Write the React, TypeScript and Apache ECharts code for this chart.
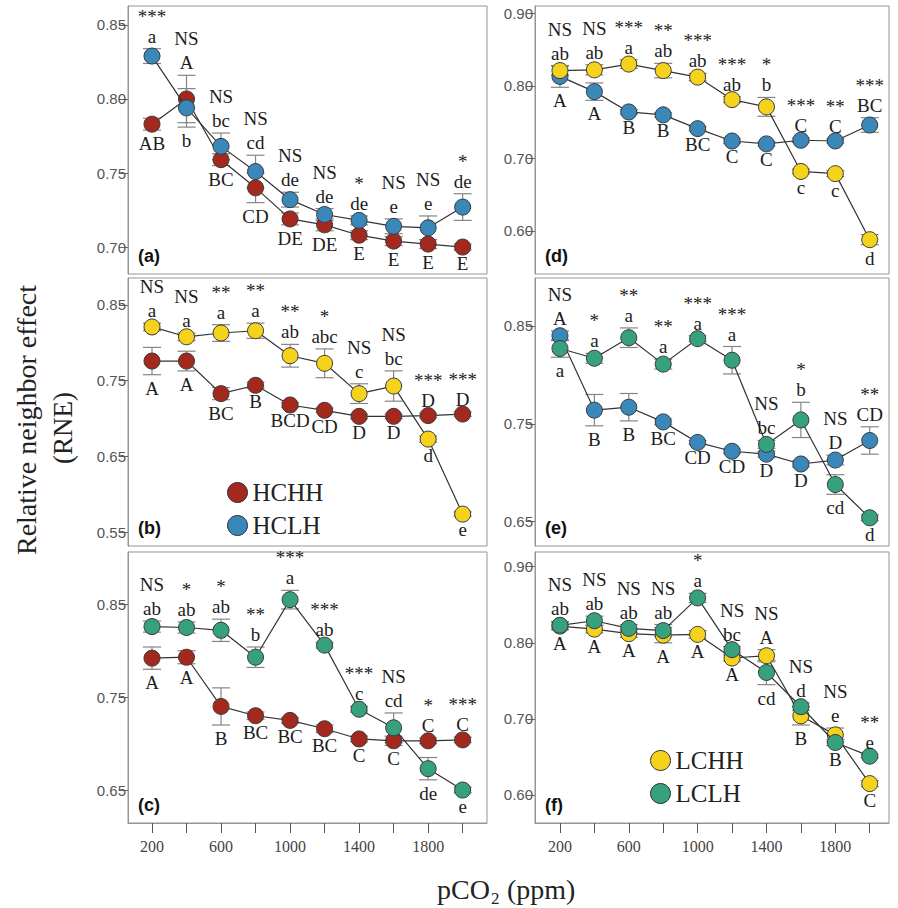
import React, { useEffect, useRef } from 'react';
import * as echarts from 'echarts';

// ---------- data ----------
const pco2 = [200, 400, 600, 800, 1000, 1200, 1400, 1600, 1800, 2000];
const xTickValues = [200, 400, 600, 800, 1000, 1200, 1400, 1600, 1800, 2000];
const xLabelValues = [200, 600, 1000, 1400, 1800];

// (a) HCHH vs HCLH
const aHCHH = [0.783, 0.800, 0.759, 0.740, 0.719, 0.715, 0.708, 0.704, 0.702, 0.700];
const aHCHHErr = [0.004, 0.016, 0.004, 0.010, 0.004, 0.004, 0.003, 0.003, 0.003, 0.002];
const aHCLH = [0.829, 0.794, 0.768, 0.751, 0.732, 0.722, 0.718, 0.714, 0.713, 0.727];
const aHCLHErr = [0.005, 0.013, 0.009, 0.011, 0.005, 0.004, 0.003, 0.005, 0.008, 0.009];
const aSig = ['***', 'NS', 'NS', 'NS', 'NS', 'NS', '*', 'NS', 'NS', '*'];
const aHCHHLetters = ['AB', 'A', 'BC', 'CD', 'DE', 'DE', 'E', 'E', 'E', 'E'];
const aHCLHLetters = ['a', 'b', 'bc', 'cd', 'de', 'de', 'de', 'e', 'e', 'de'];
const aTicks = [0.70, 0.75, 0.80, 0.85];

// (b) HCHH vs LCHH
const bHCHH = [0.776, 0.776, 0.733, 0.744, 0.718, 0.711, 0.703, 0.703, 0.704, 0.706];
const bHCHHErr = [0.018, 0.013, 0.008, 0.004, 0.003, 0.003, 0.003, 0.003, 0.003, 0.003];
const bLCHH = [0.821, 0.808, 0.813, 0.816, 0.783, 0.773, 0.733, 0.743, 0.673, 0.574];
const bLCHHErr = [0.005, 0.005, 0.011, 0.010, 0.015, 0.019, 0.013, 0.020, 0.004, 0.003];
const bSig = ['NS', 'NS', '**', '**', '**', '*', 'NS', 'NS', '***', '***'];
const bHCHHLetters = ['A', 'A', 'BC', 'B', 'BCD', 'CD', 'D', 'D', 'D', 'D'];
const bLCHHLetters = ['a', 'a', 'a', 'a', 'ab', 'abc', 'c', 'bc', 'd', 'e'];
const bTicks = [0.55, 0.65, 0.75, 0.85];

// (c) HCHH vs LCLH
const cHCHH = [0.792, 0.793, 0.740, 0.730, 0.725, 0.716, 0.705, 0.703, 0.703, 0.704];
const cHCHHErr = [0.012, 0.007, 0.020, 0.004, 0.003, 0.004, 0.003, 0.005, 0.003, 0.003];
const cLCLH = [0.826, 0.825, 0.822, 0.793, 0.855, 0.806, 0.737, 0.717, 0.673, 0.650];
const cLCLHErr = [0.006, 0.006, 0.012, 0.011, 0.010, 0.003, 0.003, 0.016, 0.012, 0.003];
const cSig = ['NS', '*', '*', '**', '***', '***', '***', 'NS', '*', '***'];
const cHCHHLetters = ['A', 'A', 'B', 'BC', 'BC', 'BC', 'C', 'C', 'C', 'C'];
const cLCLHLetters = ['ab', 'ab', 'ab', 'b', 'a', 'ab', 'c', 'cd', 'de', 'e'];
const cTicks = [0.65, 0.75, 0.85];

// (d) HCLH vs LCHH
const dHCLH = [0.813, 0.792, 0.764, 0.760, 0.741, 0.724, 0.720, 0.725, 0.724, 0.746];
const dHCLHErr = [0.015, 0.012, 0.003, 0.003, 0.003, 0.003, 0.003, 0.003, 0.003, 0.010];
const dLCHH = [0.821, 0.822, 0.830, 0.821, 0.812, 0.781, 0.771, 0.682, 0.679, 0.588];
const dLCHHErr = [0.006, 0.007, 0.006, 0.010, 0.005, 0.004, 0.013, 0.003, 0.004, 0.007];
const dSig = ['NS', 'NS', '***', '**', '***', '***', '*', '***', '**', '***'];
const dHCLHLetters = ['A', 'A', 'B', 'B', 'BC', 'C', 'C', 'C', 'C', 'BC'];
const dLCHHLetters = ['ab', 'ab', 'a', 'ab', 'ab', 'ab', 'b', 'c', 'c', 'd'];
const dTicks = [0.60, 0.70, 0.80, 0.90];

// (e) HCLH vs LCLH
const eHCLH = [0.840, 0.764, 0.767, 0.752, 0.731, 0.722, 0.719, 0.709, 0.713, 0.733];
const eHCLHErr = [0.005, 0.016, 0.014, 0.003, 0.002, 0.002, 0.003, 0.003, 0.005, 0.014];
const eLCLH = [0.827, 0.817, 0.838, 0.811, 0.837, 0.815, 0.729, 0.754, 0.688, 0.654];
const eLCLHErr = [0.009, 0.005, 0.010, 0.005, 0.003, 0.014, 0.004, 0.018, 0.010, 0.003];
const eSig = ['NS', '*', '**', '**', '***', '***', 'NS', '*', 'NS', '**'];
const eHCLHLetters = ['A', 'B', 'B', 'BC', 'CD', 'CD', 'D', 'D', 'D', 'CD'];
const eLCLHLetters = ['a', 'a', 'a', 'a', 'a', 'a', 'bc', 'b', 'cd', 'd'];
const eTicks = [0.65, 0.75, 0.85];

// (f) LCHH vs LCLH
const fLCHH = [0.822, 0.818, 0.812, 0.810, 0.811, 0.780, 0.783, 0.704, 0.679, 0.615];
const fLCHHErr = [0.005, 0.005, 0.005, 0.010, 0.005, 0.004, 0.008, 0.012, 0.009, 0.004];
const fLCLH = [0.823, 0.829, 0.819, 0.816, 0.859, 0.791, 0.761, 0.716, 0.669, 0.651];
const fLCLHErr = [0.005, 0.006, 0.005, 0.008, 0.006, 0.004, 0.016, 0.005, 0.004, 0.002];
const fSig = ['NS', 'NS', 'NS', 'NS', '*', 'NS', 'NS', 'NS', 'NS', '**'];
const fLCHHLetters = ['A', 'A', 'A', 'A', 'A', 'A', 'A', 'B', 'B', 'C'];
const fLCLHLetters = ['ab', 'ab', 'ab', 'ab', 'a', 'bc', 'cd', 'd', 'e', 'e'];
const fTicks = [0.60, 0.70, 0.80, 0.90];
// letter of LCLH (series index 1) written above at 1800 ppm
const fUpperOverride: Record<number, number> = { 8: 1 };

// ---------- styles ----------
const COLORS: Record<string, string> = {
  HCHH: '#a3291e',
  HCLH: '#3a87ba',
  LCHH: '#f5d21c',
  LCLH: '#36a07f',
};
const SERIF = '"Liberation Serif", "Times New Roman", serif';
const SANS = '"Liberation Sans", Arial, sans-serif';

type Ser = { name: string; values: number[]; err: number[]; letters: string[] };
type Panel = {
  tag: string;
  grid: { left: number; top: number; width: number; height: number };
  xMin: number; xMax: number; yMin: number; yMax: number;
  yTicks: number[];
  s: [Ser, Ser];
  sig: string[];
  upperOverride?: Record<number, number>;
  showX: boolean;
};

const L = { left: 128, width: 359, xMin: 61, xMax: 2141 };
const R = { left: 535, width: 354, xMin: 55, xMax: 2112 };
const ROWS = [
  { top: 6, height: 268 },
  { top: 278, height: 268 },
  { top: 552, height: 271 },
];

const panels: Panel[] = [
  {
    tag: '(a)', grid: { left: L.left, width: L.width, ...ROWS[0] }, xMin: L.xMin, xMax: L.xMax,
    yMin: 0.6818, yMax: 0.8628, yTicks: aTicks, sig: aSig, showX: false,
    s: [
      { name: 'HCHH', values: aHCHH, err: aHCHHErr, letters: aHCHHLetters },
      { name: 'HCLH', values: aHCLH, err: aHCLHErr, letters: aHCLHLetters },
    ],
  },
  {
    tag: '(b)', grid: { left: L.left, width: L.width, ...ROWS[1] }, xMin: L.xMin, xMax: L.xMax,
    yMin: 0.5319, yMax: 0.8856, yTicks: bTicks, sig: bSig, showX: false,
    s: [
      { name: 'HCHH', values: bHCHH, err: bHCHHErr, letters: bHCHHLetters },
      { name: 'LCHH', values: bLCHH, err: bLCHHErr, letters: bLCHHLetters },
    ],
  },
  {
    tag: '(c)', grid: { left: L.left, width: L.width, ...ROWS[2] }, xMin: L.xMin, xMax: L.xMax,
    yMin: 0.6145, yMax: 0.9063, yTicks: cTicks, sig: cSig, showX: true,
    s: [
      { name: 'HCHH', values: cHCHH, err: cHCHHErr, letters: cHCHHLetters },
      { name: 'LCLH', values: cLCLH, err: cLCLHErr, letters: cLCLHLetters },
    ],
  },
  {
    tag: '(d)', grid: { left: R.left, width: R.width, ...ROWS[0] }, xMin: R.xMin, xMax: R.xMax,
    yMin: 0.5407, yMax: 0.910, yTicks: dTicks, sig: dSig, showX: false,
    s: [
      { name: 'HCLH', values: dHCLH, err: dHCLHErr, letters: dHCLHLetters },
      { name: 'LCHH', values: dLCHH, err: dLCHHErr, letters: dLCHHLetters },
    ],
  },
  {
    tag: '(e)', grid: { left: R.left, width: R.width, ...ROWS[1] }, xMin: R.xMin, xMax: R.xMax,
    yMin: 0.6252, yMax: 0.899, yTicks: eTicks, sig: eSig, showX: false,
    s: [
      { name: 'HCLH', values: eHCLH, err: eHCLHErr, letters: eHCLHLetters },
      { name: 'LCLH', values: eLCLH, err: eLCLHErr, letters: eLCLHLetters },
    ],
  },
  {
    tag: '(f)', grid: { left: R.left, width: R.width, ...ROWS[2] }, xMin: R.xMin, xMax: R.xMax,
    yMin: 0.5632, yMax: 0.9193, yTicks: fTicks, sig: fSig, showX: true, upperOverride: fUpperOverride,
    s: [
      { name: 'LCHH', values: fLCHH, err: fLCHHErr, letters: fLCHHLetters },
      { name: 'LCLH', values: fLCLH, err: fLCLHErr, letters: fLCLHLetters },
    ],
  },
];

function txt(text: string, x: number, y: number, va: string, size: number) {
  return {
    type: 'text',
    x,
    y,
    style: {
      text,
      font: `${size}px ${SERIF}`,
      fill: '#1c1c1c',
      align: 'center',
      verticalAlign: va,
    },
  };
}

function buildOption() {
  const grid: any[] = [];
  const xAxis: any[] = [];
  const yAxis: any[] = [];
  const series: any[] = [];
  const graphic: any[] = [];

  panels.forEach((p, gi) => {
    grid.push({
      ...p.grid,
      show: true,
      borderColor: '#959595',
      borderWidth: 1,
      backgroundColor: 'transparent',
    });
    xAxis.push({
      gridIndex: gi,
      type: 'value',
      min: p.xMin,
      max: p.xMax,
      axisLine: { show: p.showX, lineStyle: { color: '#959595' } },
      axisTick: { show: p.showX, customValues: xTickValues, length: 10, lineStyle: { color: '#555' } },
      axisLabel: {
        show: p.showX,
        customValues: xLabelValues,
        formatter: (v: number) => String(Math.round(v)),
        fontFamily: SERIF,
        fontSize: 16,
        color: '#444',
        margin: 15,
      },
      splitLine: { show: false },
    });
    yAxis.push({
      gridIndex: gi,
      type: 'value',
      min: p.yMin,
      max: p.yMax,
      axisLine: { show: true, lineStyle: { color: '#959595' } },
      axisTick: { show: true, customValues: p.yTicks, length: 9, lineStyle: { color: '#666' } },
      axisLabel: {
        customValues: p.yTicks,
        formatter: (v: number) => v.toFixed(2),
        fontFamily: SANS,
        fontSize: 15,
        color: '#555',
        margin: 2,
      },
      splitLine: { show: false },
    });

    // error bars
    p.s.forEach((s) => {
      series.push({
        type: 'custom',
        xAxisIndex: gi,
        yAxisIndex: gi,
        silent: true,
        z: 1,
        data: pco2.map((x, j) => [x, s.values[j], s.err[j]]),
        renderItem: (params: any, api: any) => {
          const x = api.value(0);
          const v = api.value(1);
          const e = api.value(2);
          const hi = api.coord([x, v + e]);
          const lo = api.coord([x, v - e]);
          const w = 9;
          const st = { stroke: '#858585', lineWidth: 1.2 };
          return {
            type: 'group',
            children: [
              { type: 'line', shape: { x1: hi[0], y1: hi[1], x2: lo[0], y2: lo[1] }, style: st },
              { type: 'line', shape: { x1: hi[0] - w, y1: hi[1], x2: hi[0] + w, y2: hi[1] }, style: st },
              { type: 'line', shape: { x1: lo[0] - w, y1: lo[1], x2: lo[0] + w, y2: lo[1] }, style: st },
            ],
          };
        },
      });
    });

    // lines with markers
    p.s.forEach((s, k) => {
      series.push({
        name: s.name,
        type: 'line',
        xAxisIndex: gi,
        yAxisIndex: gi,
        z: 3 + k,
        data: pco2.map((x, j) => [x, s.values[j]]),
        symbol: 'circle',
        symbolSize: 16,
        showAllSymbol: true,
        lineStyle: { color: '#333', width: 1.2 },
        itemStyle: { color: COLORS[s.name], borderColor: '#3a3a3a', borderWidth: 1 },
        emphasis: { disabled: true },
      });
    });

    // significance and letter labels
    const [s0, s1] = p.s;
    series.push({
      type: 'custom',
      xAxisIndex: gi,
      yAxisIndex: gi,
      silent: true,
      z: 6,
      data: pco2.map((x, j) => [
        x,
        Math.max(s0.values[j] + s0.err[j], s1.values[j] + s1.err[j]),
        Math.min(s0.values[j] - s0.err[j], s1.values[j] - s1.err[j]),
      ]),
      renderItem: (params: any, api: any) => {
        const j = params.dataIndex;
        const x = api.value(0);
        const top = api.coord([x, api.value(1)]);
        const bot = api.coord([x, api.value(2)]);
        let upper = s1.values[j] >= s0.values[j] ? 1 : 0;
        if (p.upperOverride && p.upperOverride[j] !== undefined) upper = p.upperOverride[j];
        const hi = p.s[upper];
        const lo = p.s[1 - upper];
        const sig = p.sig[j];
        const stars = sig.charAt(0) === '*';
        const letterY = top[1] - 3;
        return {
          type: 'group',
          children: [
            txt(hi.letters[j], top[0], letterY, 'bottom', 19),
            stars
              ? txt(sig, top[0], letterY - 20, 'bottom', 19)
              : txt(sig, top[0], letterY - 24, 'bottom', 19),
            txt(lo.letters[j], bot[0], bot[1] + 4, 'top', 19),
          ],
        };
      },
    });

    graphic.push({
      type: 'text',
      left: p.grid.left + 10,
      top: p.grid.top + p.grid.height - 27,
      style: { text: p.tag, font: `bold 18px ${SANS}`, fill: '#111' },
    });
  });

  // axis titles
  graphic.push({
    type: 'text',
    x: 26,
    y: 420,
    rotation: Math.PI / 2,
    style: {
      text: 'Relative neighbor effect',
      font: `28px ${SERIF}`,
      fill: '#222',
      align: 'center',
      verticalAlign: 'middle',
    },
  });
  graphic.push({
    type: 'text',
    x: 63,
    y: 428,
    rotation: Math.PI / 2,
    style: { text: '(RNE)', font: `27px ${SERIF}`, fill: '#222', align: 'center', verticalAlign: 'middle' },
  });
  graphic.push({
    type: 'text',
    x: 437,
    y: 889,
    style: { text: 'pCO', font: `28px ${SERIF}`, fill: '#222', align: 'left', verticalAlign: 'middle' },
  });
  graphic.push({
    type: 'text',
    x: 491,
    y: 898,
    style: { text: '2', font: `17px ${SERIF}`, fill: '#222', align: 'left', verticalAlign: 'middle' },
  });
  graphic.push({
    type: 'text',
    x: 507,
    y: 889,
    style: { text: '(ppm)', font: `28px ${SERIF}`, fill: '#222', align: 'left', verticalAlign: 'middle' },
  });

  const legendBase = {
    orient: 'vertical',
    icon: 'circle',
    itemWidth: 20,
    itemHeight: 20,
    itemGap: 8,
    selectedMode: false,
    itemStyle: { borderColor: '#333', borderWidth: 1 },
    textStyle: { fontFamily: SERIF, fontSize: 25, color: '#222', lineHeight: 20 },
  };

  return {
    animation: false,
    backgroundColor: '#fff',
    grid,
    xAxis,
    yAxis,
    series,
    graphic,
    legend: [
      { ...legendBase, data: ['HCHH', 'HCLH'], left: 222, top: 475 },
      { ...legendBase, data: ['LCHH', 'LCLH'], left: 645, top: 743 },
    ],
  };
}

export default function App() {
  const ref = useRef<HTMLDivElement>(null);
  useEffect(() => {
    if (!ref.current) return;
    const chart = echarts.init(ref.current, undefined, { renderer: 'svg' });
    chart.setOption(buildOption() as any);
    return () => chart.dispose();
  }, []);
  return (
    <div
      ref={ref}
      style={{ position: 'absolute', left: 0, top: 0, width: 898, height: 908, background: '#fff' }}
    />
  );
}
